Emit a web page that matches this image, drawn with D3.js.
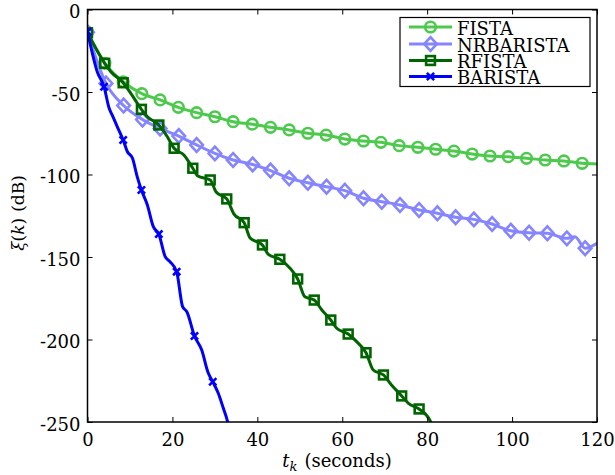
<!DOCTYPE html>
<html>
<head>
<meta charset="utf-8">
<script src="https://cdn.jsdelivr.net/npm/d3@7/dist/d3.min.js"></script>
<style>
  html, body { margin: 0; padding: 0; background: #fff; }
  svg { display: block; }
  text { font-family: "DejaVu Serif", "Liberation Serif", serif; fill: #000; }
</style>
</head>
<body>
<svg id="chart" width="615" height="475"></svg>
<script>
// ---------- data ----------
const xTicks = [0, 20, 40, 60, 80, 100, 120];
const yTicks = [0, -50, -100, -150, -200, -250];
const seriesNames = ["FISTA", "NRBARISTA", "RFISTA", "BARISTA"];

// FISTA
const fistaMarkT = [0,4.1,8.4,12.8,17.1,21.4,25.7,30.0,34.3,38.8,43.1,47.5,51.9,56.2,60.6,65.0,69.1,73.4,77.8,82.0,86.3,90.6,94.8,99.1,103.4,107.8,112.2,116.5];
const fistaMarkV = [-13.8,-32.6,-43.8,-51.0,-54.8,-59.3,-62.5,-65.0,-68.0,-69.5,-71.4,-73.0,-75.0,-76.1,-78.5,-79.7,-80.5,-82.5,-83.5,-84.7,-85.8,-87.6,-88.8,-89.2,-90.2,-91.2,-91.8,-93.2];
const fistaLineT = fistaMarkT.concat([120]);
const fistaLineV = fistaMarkV.concat([-93.6]);

// NRBARISTA
const nrbMarkT = [0,4.35,8.5,12.95,17.1,21.5,25.7,30.0,34.3,38.9,43.1,47.5,51.9,56.3,60.6,65.0,69.3,73.6,78.1,82.4,86.7,91.0,95.3,99.7,104.0,108.3,112.9,117.2];
const nrbMarkV = [-13.8,-44.8,-58.2,-66.7,-72.1,-76.7,-82.1,-87.2,-91.2,-93.9,-97.6,-102.3,-105.0,-107.4,-109.8,-114.4,-116.5,-118.5,-121.5,-123.5,-125.9,-127.2,-130.0,-134.1,-135.3,-135.6,-138.7,-144.7];
const nrbLineT = [0,4.35,8.5,12.95,17.1,21.5,25.7,30.0,34.3,38.9,43.1,47.5,51.9,56.3,60.6,65.0,69.3,73.6,78.1,82.4,86.7,91.0,95.3,99.7,104.0,108.3,112.9,114.8,117.2,120];
const nrbLineV = [-13.8,-44.8,-58.2,-66.7,-72.1,-76.7,-82.1,-87.2,-91.2,-93.9,-97.6,-102.3,-105.0,-107.4,-109.8,-114.4,-116.5,-118.5,-121.5,-123.5,-125.9,-127.2,-130.0,-134.1,-135.3,-135.6,-138.7,-137.7,-144.7,-141.7];

// RFISTA
const rfMarkT = [0,4.05,8.4,12.7,16.8,20.4,24.8,28.9,32.8,36.9,41.2,45.3,49.5,53.4,57.3,61.4,65.6,69.7,74.0,78.1];
const rfMarkV = [-14.1,-32.6,-44.4,-60.5,-70.0,-84.1,-96.2,-103.3,-114.8,-129.2,-142.7,-151.4,-163.3,-176.1,-188.2,-196.7,-208.0,-221.5,-234.2,-242.1];
const rfLineT = [0,4.05,5.5,8.4,10.2,12.7,14.1,16.8,18.8,20.4,22.7,24.8,26.0,28.9,30.3,32.8,34.5,36.9,38.3,41.2,42.6,45.3,47.7,49.5,51.2,53.4,55.2,57.3,58.7,61.4,63.4,65.6,67.3,69.7,71.6,74.0,75.6,78.1,80.7,81.2];
const rfLineV = [-14.1,-32.6,-37.7,-44.4,-50.8,-60.5,-65.0,-70.0,-77.1,-84.1,-88.2,-96.2,-100.9,-103.3,-110.6,-114.8,-124.0,-129.2,-138.5,-142.7,-148.4,-151.4,-156.8,-163.3,-174.1,-176.1,-182.1,-188.2,-193.2,-196.7,-201.3,-208.0,-218.5,-221.5,-227.6,-234.2,-238.7,-242.1,-249.2,-252];

// BARISTA
const baMarkT = [0,3.9,8.4,12.7,16.8,21.0,25.2,29.5];
const baMarkV = [-13.5,-46.8,-79.1,-109.4,-136.1,-158.9,-197.9,-225.6];
const baLineT = [0,2.3,3.9,5.1,5.8,7.0,8.4,9.4,10.6,11.7,12.7,14.1,15.5,16.8,18.3,19.4,21.0,22.4,23.4,25.2,26.9,28.4,29.5,30.8,32.0,32.9,33.3];
const baLineV = [-13.5,-37.7,-46.8,-59.9,-63.9,-71.0,-79.1,-86.2,-90.2,-101.3,-109.4,-118.5,-131.6,-136.1,-149.8,-152.8,-158.9,-180.1,-183.2,-197.9,-206.4,-220.0,-225.6,-232.6,-241.7,-248.8,-253];

// ---------- layout ----------
const FONT = "'DejaVu Serif', 'Liberation Serif', serif";
const svg = d3.select("#chart");
const mLeft = 87.5, mRight = 597, mTop = 9.5, mBottom = 422;
const x = d3.scaleLinear().domain([0, 120]).range([mLeft, mRight]);
const y = d3.scaleLinear().domain([-250, 0]).range([mBottom, mTop]);

const series = [
  {name: "FISTA", color: "#4DC94D", lt: fistaLineT, lv: fistaLineV, mt: fistaMarkT, mv: fistaMarkV, marker: "circle"},
  {name: "NRBARISTA", color: "#8585FF", lt: nrbLineT, lv: nrbLineV, mt: nrbMarkT, mv: nrbMarkV, marker: "diamond"},
  {name: "RFISTA", color: "#006400", lt: rfLineT, lv: rfLineV, mt: rfMarkT, mv: rfMarkV, marker: "square"},
  {name: "BARISTA", color: "#0000FF", lt: baLineT, lv: baLineV, mt: baMarkT, mv: baMarkV, marker: "x"}
];

svg.append("defs").append("clipPath").attr("id", "plotclip")
  .append("rect").attr("x", mLeft).attr("y", mTop).attr("width", mRight - mLeft).attr("height", mBottom - mTop);

function drawMarker(g, type, cx, cy, color) {
  if (type === "circle") {
    g.append("circle").attr("cx", cx).attr("cy", cy).attr("r", 5.3)
      .attr("fill", "none").attr("stroke", color).attr("stroke-width", 2.6);
  } else if (type === "diamond") {
    const s = 6.3;
    g.append("path").attr("d", `M${cx},${cy - s - 0.5}L${cx + s},${cy}L${cx},${cy + s + 0.5}L${cx - s},${cy}Z`)
      .attr("fill", "none").attr("stroke", color).attr("stroke-width", 2.6);
  } else if (type === "square") {
    const s = 4.4;
    g.append("rect").attr("x", cx - s).attr("y", cy - s).attr("width", 2 * s).attr("height", 2 * s)
      .attr("fill", "none").attr("stroke", color).attr("stroke-width", 2.6);
  } else if (type === "x") {
    const s = 3.6;
    g.append("path").attr("d", `M${cx - s},${cy - s}L${cx + s},${cy + s}M${cx - s},${cy + s}L${cx + s},${cy - s}`)
      .attr("fill", "none").attr("stroke", color).attr("stroke-width", 2.6);
  }
}

const plot = svg.append("g").attr("clip-path", "url(#plotclip)");
const line = d3.line().x(d => x(d[0])).y(d => y(d[1])).curve(d3.curveMonotoneX);

series.forEach(s => {
  const pts = s.lt.map((t, i) => [t, s.lv[i]]);
  plot.append("path").datum(pts).attr("d", line)
    .attr("fill", "none").attr("stroke", s.color).attr("stroke-width", 3)
    .attr("stroke-linejoin", "round");
  const mg = plot.append("g");
  s.mt.forEach((t, i) => drawMarker(mg, s.marker, x(t), y(s.mv[i]), s.color));
});

// ---------- axes (box with inward ticks) ----------
const tickLen = 5;
const axB = svg.append("g").attr("transform", `translate(0,${mBottom})`)
  .call(d3.axisBottom(x).tickValues(xTicks).tickSizeInner(-tickLen).tickSizeOuter(0).tickPadding(11).tickFormat(d3.format("d")));
const axT = svg.append("g").attr("transform", `translate(0,${mTop})`)
  .call(d3.axisTop(x).tickValues(xTicks).tickSizeInner(-tickLen).tickSizeOuter(0).tickFormat(""));
const axL = svg.append("g").attr("transform", `translate(${mLeft},0)`)
  .call(d3.axisLeft(y).tickValues(yTicks).tickSizeInner(-tickLen).tickSizeOuter(0).tickPadding(7).tickFormat(d => d3.format("d")(d).replace("−", "-")));
const axR = svg.append("g").attr("transform", `translate(${mRight},0)`)
  .call(d3.axisRight(y).tickValues(yTicks).tickSizeInner(-tickLen).tickSizeOuter(0).tickFormat(""));

[axB, axT, axL, axR].forEach(a => {
  a.attr("font-family", FONT).attr("font-size", 18);
  a.select(".domain").remove();
  a.selectAll(".tick line").attr("stroke", "#000").attr("stroke-width", 1);
  a.selectAll("text").attr("fill", "#000");
});
axL.selectAll("text").attr("dy", "0.45em");

svg.append("rect").attr("x", mLeft).attr("y", mTop).attr("width", mRight - mLeft).attr("height", mBottom - mTop)
  .attr("fill", "none").attr("stroke", "#000").attr("stroke-width", 1.5);

// axis labels
const xl = svg.append("text").attr("x", 337).attr("y", 467).attr("text-anchor", "middle").attr("font-size", 18);
xl.append("tspan").attr("font-style", "italic").text("t");
xl.append("tspan").attr("font-style", "italic").attr("font-size", 13).attr("dy", 4).text("k");
xl.append("tspan").attr("dy", -4).attr("dx", 7).text("(seconds)");

const yl = svg.append("text").attr("transform", "translate(24,213) rotate(-90)").attr("text-anchor", "middle").attr("font-size", 17);
yl.append("tspan").attr("font-style", "italic").text("ξ");
yl.append("tspan").text("(");
yl.append("tspan").attr("font-style", "italic").text("k");
yl.append("tspan").text(")");
yl.append("tspan").attr("dx", 6).text("(dB)");

// ---------- legend ----------
const lg = svg.append("g");
lg.append("rect").attr("x", 400).attr("y", 17.5).attr("width", 190).attr("height", 69)
  .attr("fill", "#fff").attr("stroke", "#000").attr("stroke-width", 1.2);
const legY = [27, 44, 60.5, 76.5];
series.forEach((s, i) => {
  const yy = legY[i];
  lg.append("line").attr("x1", 409).attr("x2", 452).attr("y1", yy).attr("y2", yy)
    .attr("stroke", s.color).attr("stroke-width", 3);
  drawMarker(lg, s.marker, 430.5, yy, s.color);
  lg.append("text").attr("x", 457).attr("y", yy + 7.5).attr("font-size", 18).text(seriesNames[i]);
});
</script>
</body>
</html>
